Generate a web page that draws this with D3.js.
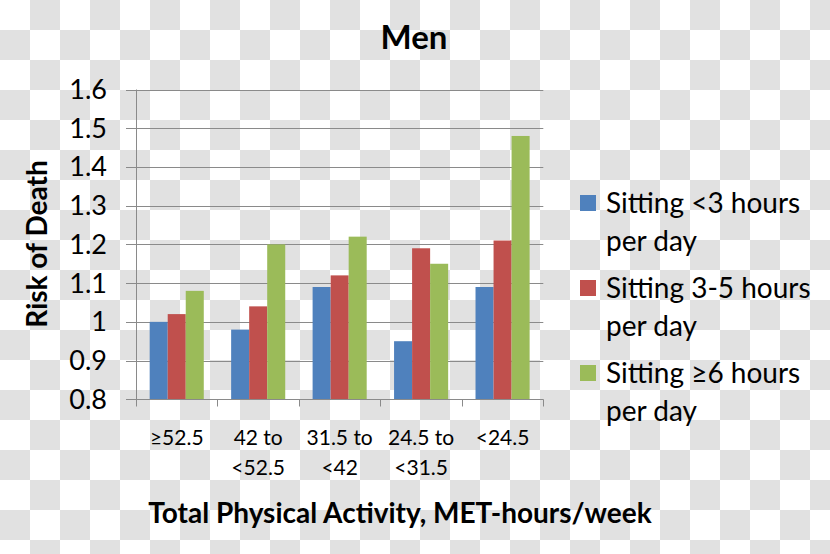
<!DOCTYPE html>
<html>
<head>
<meta charset="utf-8">
<script src="https://cdn.jsdelivr.net/npm/d3@7"></script>
<style>
html,body{margin:0;padding:0;}
svg{display:block;}
text{font-family:"Lato","Noto Sans",sans-serif;fill:#000;}
</style>
</head>
<body>
<svg id="chart" width="830" height="554"></svg>
<script>
const categories = [["≥52.5"], ["42 to", "<52.5"], ["31.5 to", "<42"], ["24.5 to", "<31.5"], ["<24.5"]];
const seriesNames = [["Sitting <3 hours", "per day"], ["Sitting 3-5 hours", "per day"], ["Sitting ≥6 hours", "per day"]];
const sittingLt3 = [1.00, 0.98, 1.09, 0.95, 1.09];
const sitting3to5 = [1.02, 1.04, 1.12, 1.19, 1.21];
const sittingGe6 = [1.08, 1.20, 1.22, 1.15, 1.48];
const yTicks = [0.8, 0.9, 1.0, 1.1, 1.2, 1.3, 1.4, 1.5, 1.6];
const yTickLabels = ["0.8", "0.9", "1", "1.1", "1.2", "1.3", "1.4", "1.5", "1.6"];
const colors = ["#4f81bd", "#c0504d", "#9bbb59"];

const series = [sittingLt3, sitting3to5, sittingGe6];
const svg = d3.select("#chart");

// checkerboard background
const defs = svg.append("defs");
const pat = defs.append("pattern").attr("id", "checker").attr("patternUnits", "userSpaceOnUse")
  .attr("width", 60).attr("height", 60);
pat.append("rect").attr("width", 60).attr("height", 60).attr("fill", "#ffffff");
pat.append("rect").attr("x", 30).attr("y", 0).attr("width", 30).attr("height", 30).attr("fill", "#e1e1e1");
pat.append("rect").attr("x", 0).attr("y", 30).attr("width", 30).attr("height", 30).attr("fill", "#e1e1e1");
svg.append("rect").attr("width", 830).attr("height", 554).attr("fill", "url(#checker)");

const plotL = 136, plotR = 543.3, plotT = 89.5, plotB = 399.3;
const y = d3.scaleLinear().domain([0.8, 1.6]).range([plotB, plotT]);
const x0 = d3.scaleBand().domain(d3.range(categories.length)).range([plotL, plotR]).padding(0);
const bw = x0.bandwidth();
const x1 = d3.scaleBand().domain(d3.range(series.length)).range([bw * 0.168, bw * 0.832]).padding(0);

const gridColor = "#8a8a8a";

// gridlines
svg.append("g").selectAll("line").data(yTicks).join("line")
  .attr("x1", plotL - 10).attr("x2", plotR)
  .attr("y1", d => Math.round(y(d)) + 0.5).attr("y2", d => Math.round(y(d)) + 0.5)
  .attr("stroke", gridColor).attr("stroke-width", 1);

// y tick labels
svg.append("g").selectAll("text").data(yTicks).join("text")
  .attr("x", 107).attr("y", d => y(d)).attr("dy", "0.35em")
  .attr("text-anchor", "end").attr("font-size", 27)
  .text((d, i) => yTickLabels[i]);

// y axis line
svg.append("line").attr("x1", plotL + 0.5).attr("x2", plotL + 0.5)
  .attr("y1", plotT).attr("y2", plotB).attr("stroke", gridColor);

// bars
const groups = svg.append("g").selectAll("g").data(categories).join("g")
  .attr("transform", (d, i) => `translate(${x0(i)},0)`);
groups.selectAll("rect").data((d, i) => series.map((s, j) => ({ j, v: s[i] }))).join("rect")
  .attr("x", d => x1(d.j)).attr("width", x1.bandwidth())
  .attr("y", d => y(d.v)).attr("height", d => y(0.8) - y(d.v))
  .attr("fill", d => colors[d.j]);

// x axis line and ticks
const bottomY = Math.round(plotB) + 0.5;
svg.append("line").attr("x1", plotL - 10).attr("x2", plotR).attr("y1", bottomY).attr("y2", bottomY).attr("stroke", gridColor);
const tickXs = d3.range(categories.length).map(i => x0(i)).concat([plotR]);
svg.append("g").selectAll("line").data(tickXs).join("line")
  .attr("x1", d => Math.round(d) + 0.5).attr("x2", d => Math.round(d) + 0.5)
  .attr("y1", bottomY).attr("y2", bottomY + 7).attr("stroke", gridColor);

// category labels
const catG = svg.append("g").selectAll("text").data(categories).join("text")
  .attr("text-anchor", "middle").attr("font-size", 21)
  .attr("transform", (d, i) => `translate(${x0(i) + bw / 2},0)`);
catG.selectAll("tspan").data(d => d).join("tspan")
  .attr("x", 0).attr("y", (d, k) => 445 + k * 30).text(d => d);

// title
svg.append("text").attr("x", 414).attr("y", 49).attr("text-anchor", "middle")
  .attr("font-size", 33).attr("font-weight", "bold").text("Men");

// y axis title
svg.append("text").attr("transform", "translate(47,244) rotate(-90)")
  .attr("text-anchor", "middle").attr("font-size", 28).attr("font-weight", "bold").text("Risk of Death");

// x axis title
svg.append("text").attr("x", 400).attr("y", 523).attr("text-anchor", "middle")
  .attr("font-size", 28).attr("font-weight", "bold").text("Total Physical Activity, MET-hours/week");

// legend
const leg = svg.append("g").selectAll("g").data(seriesNames).join("g")
  .attr("transform", (d, i) => `translate(580,${i * 85})`);
leg.append("rect").attr("x", 0).attr("y", 195).attr("width", 16).attr("height", 16)
  .attr("fill", (d, i) => colors[i]);
leg.append("text").attr("font-size", 28)
  .selectAll("tspan").data(d => d).join("tspan")
  .attr("x", 26).attr("y", (d, k) => 213 + k * 38).text(d => d);
</script>
</body>
</html>
